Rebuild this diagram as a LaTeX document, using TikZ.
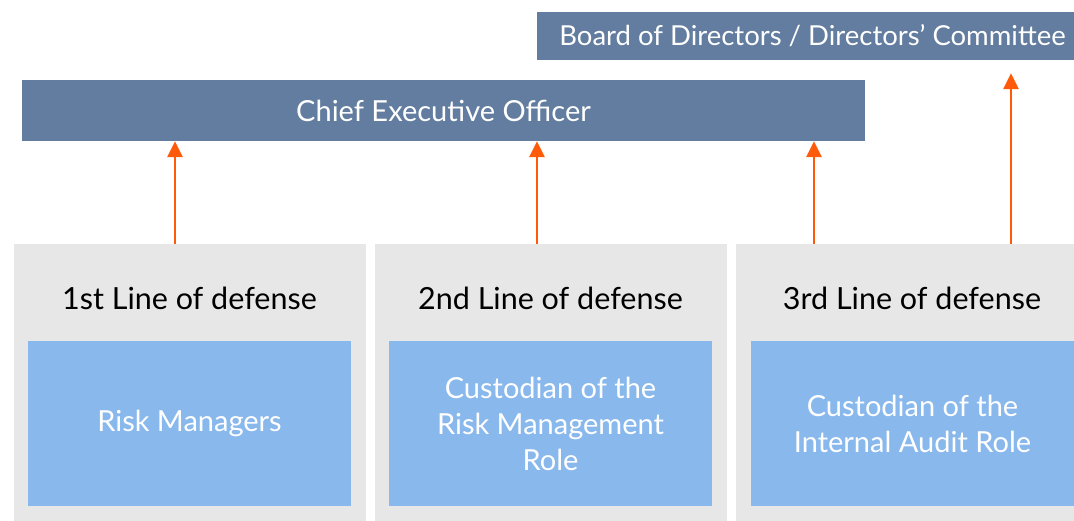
\documentclass[tikz,border=0pt]{standalone}
\usepackage{fontspec}
\setmainfont{Lato}
\usepackage{tikz}
\usetikzlibrary{arrows.meta}

\definecolor{boardblue}{HTML}{627D9F}
\definecolor{roleblue}{HTML}{89B8EC}
\definecolor{linegray}{HTML}{E7E7E7}
\definecolor{arroworange}{HTML}{FF5A0A}

\begin{document}
\begin{tikzpicture}[x=1pt,y=1pt,
    head/.style={fill=boardblue,text=white,inner sep=0pt,font=\fontsize{29}{32}\selectfont},
    defense/.style={fill=linegray,minimum width=352pt,minimum height=290pt,inner sep=0pt},
    role/.style={fill=roleblue,text=white,minimum width=323pt,minimum height=165pt,inner sep=0pt,
      align=center,font=\fontsize{29}{36}\selectfont},
    title/.style={font=\fontsize{30.5}{34}\selectfont},
    up/.style={draw=arroworange,line width=2.8pt,-{Triangle[width=15pt,length=16pt]}}]
  \useasboundingbox [fill=white] (0,0) rectangle (1074,520);
  \node [head,minimum width=551pt,minimum height=48pt] (board) at (812.5,484) {};
  \node [text=white,font=\fontsize{27.5}{30}\selectfont] at (812.5,484) {Board of Directors / Directors' Committee};
  \node [head,minimum width=843pt,minimum height=61pt] (ceo) at (443.5,409.5) {Chief Executive Officer};
  \node [defense] (line1) at (190,131) {};
  \node [defense] (line2) at (551,131) {};
  \node [defense] (line3) at (912,131) {};
  \node [title] (t1) at (189.5,222) {1st Line of defense};
  \node [title] (t2) at (550.5,222) {2nd Line of defense};
  \node [title] (t3) at (912,222) {3rd Line of defense};
  \node [role] (r1) at (189.5,96.5) {Risk Managers};
  \node [role] (r2) at (550.5,96.5) {Custodian of the\\Risk Management\\Role};
  \node [role] (r3) at (912.5,96.5) {Custodian of the\\Internal Audit Role};
  \coordinate (a1) at (175,276);
  \coordinate (a2) at (537,276);
  \coordinate (a3) at (814,276);
  \coordinate (a4) at (1011,276);
  \draw [up] (a1) -- (a1 |- ceo.south);
  \draw [up] (a2) -- (a2 |- ceo.south);
  \draw [up] (a3) -- (a3 |- ceo.south);
  \draw [up,shorten >=13pt] (a4) -- (a4 |- board.south);
\end{tikzpicture}
\end{document}
